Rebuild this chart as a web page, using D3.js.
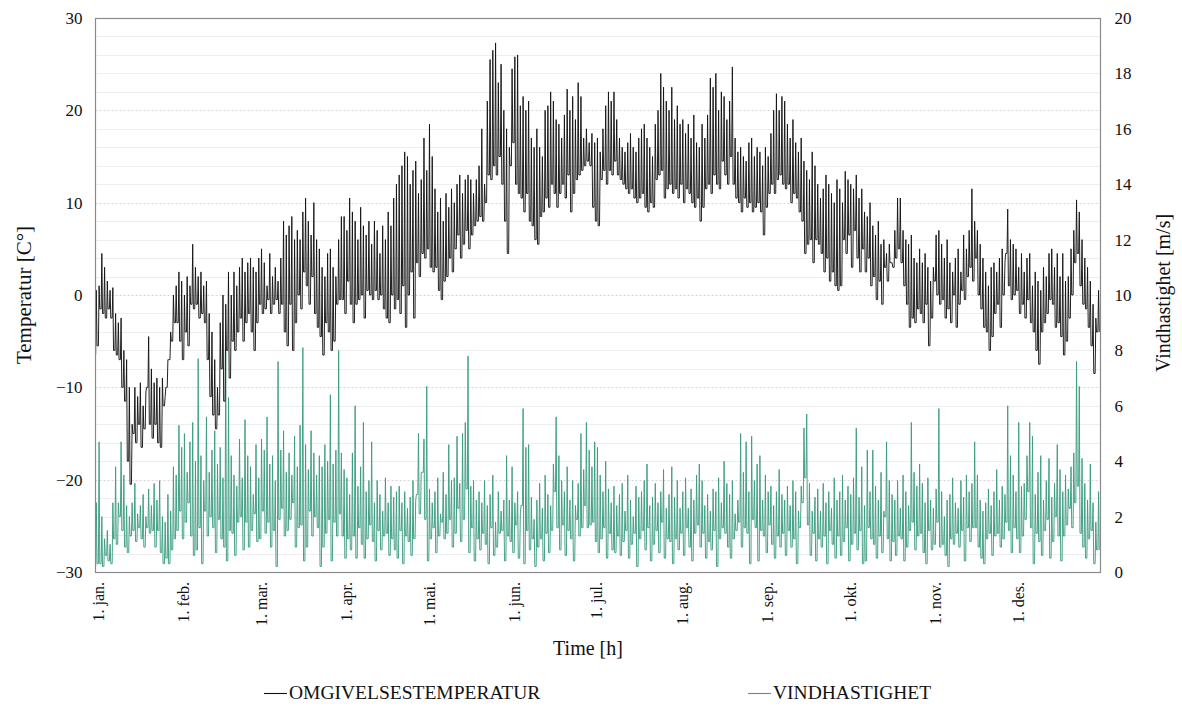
<!DOCTYPE html>
<html><head><meta charset="utf-8">
<script src="https://cdn.jsdelivr.net/npm/d3@7"></script>
<style>
html,body{margin:0;padding:0;background:#fff;}
svg{display:block;font-family:"Liberation Serif","Times New Roman",serif;}
</style></head>
<body><svg id="c" width="1182" height="706"></svg>
<script>
// ---- data (daily envelope of hourly values) ----
const monthLabels = ["1. jan.","1. feb.","1. mar.","1. apr.","1. mai.","1. jun.","1. jul.","1. aug.","1. sep.","1. okt.","1. nov.","1. des."];
const monthStartDays = [0,31,59,90,120,151,181,212,243,273,304,334];
const tempTicks = [-30,-20,-10,0,10,20,30];
const windTicks = [0,2,4,6,8,10,12,14,16,18,20];

const tempHigh = [
 0.5,1,4.5,3,1.5,0.5,0.8,-2,-3,-2.5,
 -6,-7,-10,-14,-10,-11,-9.5,-12,-10.5,-4.5,
 -8,-9.5,-9,-10,-9,-11,-7,-4,0,1,
 2.5,1.5,0,2,1,5.5,3,2,2.5,1,
 1.5,-2,-4,-7,-10,-3,0,-1,2.5,0,
 2.5,1,3,4,2.5,3.5,4,3,2.5,4,
 5,3.5,1,4.5,2,3,1.5,4,8,6.5,
 7.5,8.5,6,7,6,9,10.5,8,6.5,10,
 6,5,3,2,4.5,5,3,2,6,8.5,
 8.5,7,10.5,9,8,6,9.5,7.5,6.5,8,
 5.5,8,7,4.5,7.5,6,9,7.5,10.5,12,
 13,14,15.5,15,12,13.5,14.5,11,12.5,17,
 13.5,18.5,15,11.5,9,10.5,8,11,9.5,11.5,
 10,12,13,11,12.5,13,12.5,11,12.5,14,
 18,12,21,25.5,26.5,27.3,23,25,20,18,
 16,24.5,25.8,26,20.5,21.5,20,21,17,16,
 18,16,15,20,20.5,22,21,19,18.5,17,
 19.5,22.3,20,21.5,19,23,21.5,17,18,16.5,
 17.5,16.5,17,15.5,18,20.5,22,21,22,19,
 17,16,15.5,16.5,17.5,16,15.5,17,18,18.5,
 17,16,15,18.5,20,24,22.5,21,20,22.5,
 19,20.5,18.5,19,17.5,18.5,17,19.5,16.5,16,
 18.5,17,19.5,23.5,22.5,24,20,22,21.5,19,
 21,24.7,17,15.5,16,15,14.5,16.5,17,15,
 16,15.5,14,16,15,17.5,20,21.8,20,21.5,
 21,18.5,17,19,16.5,15.5,17,14.5,13.5,12.5,
 15.5,14,12,10.5,11.5,13,12,11,10,12.5,
 11.5,10,13.4,12.5,12,11.5,13,10.5,11.5,9,
 8.5,10,7.5,6.5,8,5.5,6,4.5,5.5,3.5,
 7,10.5,10.5,7,6,5.5,6.5,4,3.5,5,
 3.5,4.5,3,1.5,3,6.5,7,5.5,4,6,
 3.5,2.5,4,5,2.5,6.5,5,7,11.5,8,
 7,5.5,4,2.5,1,3,3.5,2.5,4,5,
 3.5,9.3,6,5.5,5,3,4.5,2.5,4,4.5,
 1,2.5,1.5,0.5,3,2,4.5,5,3,4.5,
 2,4.5,1.5,2,5,7,10.3,9,6,4,
 3,1.5,-1,-2.5,0.5
];
const tempLow = [
 -6.5,-5.5,-1.5,-2,-2.5,-1.5,-2.5,-6,-6.5,-7,
 -10,-11.5,-18,-20.5,-15,-16,-14,-16.5,-14.5,-10,
 -14,-15.5,-14,-16,-16.5,-12,-10,-7,-5,-3,
 -3,-5,-7,-4,-5.5,-1,-1.5,-1,-2.5,-2,
 -3,-7,-11,-13,-14.5,-13,-8,-11.5,-6,-9,
 -5,-6,-4,-2.5,-5,-3,-2,-4,-6,-3,
 -1,-2,-1.5,-0.5,-2,-1,-0.5,-2,-1,-4,
 -5.5,-1,-6,-3,0,-1.5,2.5,1,-1,2,
 -2,-3.5,-4.5,-6.5,-3,-4,-6,-5,-1,-0.5,
 -0.5,-2,1.5,-1,-3,-1,-0.5,0,-2.5,0.5,
 0,-0.5,0.5,-0.5,0,-1.5,-2.5,-3,0,-1.5,
 -0.5,-2,1,-3.5,0,2.5,-2.5,3.5,2,4.5,
 4,5,3,2.5,3,0.5,-0.5,1.5,2,4,
 2.5,5,6.5,4,5.5,7,5,6.5,7.5,8,
 8.5,8,10,13,12.5,14,13,15,12,8,
 4.5,14,16.5,12,11,10.5,9,11,8,7.5,
 6,5.5,8.5,9,10.5,9.5,12,11,9.5,11,
 12,10.5,13,9,11,12.5,13,13.5,14,14.5,
 14,9.5,8,7.5,12.5,13.5,12,13.5,13,14.5,
 13,12.5,12,11.5,11,11.5,10.5,10,10.5,11,
 9.5,9,10,9.5,12.5,13,13.5,10.5,11.5,12,
 11,11.5,10.5,12,10,11.5,11,10,9.5,10.5,
 8,9.5,11.5,12,11,13,12,11.5,14.5,13,
 12,15,12,10.5,10,9,10.5,9.5,10,9,
 9.5,10,9,6.5,9.5,11,12,11,12.5,13,
 12,11.5,12,10,11,10.5,9,8,4.5,5.5,
 6,3.5,6,5.5,4.5,2.5,4,1.5,2.5,1,
 0.5,1,6,4.5,6.5,3,7,4,2.5,5,
 2.5,4,1,2,-0.5,1.5,-1,3,1.5,3.5,
 3,4,5,3.5,1,-1,-3.5,-2.5,-3,-1.5,
 -2,-3,-1,-5.5,-2.5,1.5,0,-1,-0.5,-2.5,
 -1.5,-3,0,-3.5,-1,0.5,-0.5,2,3,1.5,
 4,0,-1.5,-3.5,-4,-6,-4.5,-2,-1,-3.5,
 0,4.5,1,-0.5,0,0.5,-2,-1,-2.5,-0.5,
 -3,-4,-6,-7.5,-4,-3,-2,-0.5,-1,-3.5,
 -3,-4.5,-6.5,-5,-2.5,0,3.5,4.5,1,-1,
 -1.5,-3.5,-5.5,-8.5,-4
];
const windHigh = [
 2.5,4.7,2,1.2,1.5,1,2.5,3.8,2.5,4.7,
 3.5,2.4,2,2.5,3.2,2.1,2.4,2.8,2,3,
 2.4,3.2,2.6,3.3,2,1.8,2.8,2.2,3.8,3.5,
 5.3,4.5,5,3.6,4.7,5.4,4,7.7,4.2,3.3,
 5.6,3.6,4.4,5.1,3.9,4.5,3.4,8.1,6.3,4.2,
 3.5,3.1,4.8,3.4,5.5,4.2,3.8,2.8,4.6,3.4,
 4.8,4.4,5.6,3.9,4.2,3.3,7.6,4.4,5.1,3.6,
 4.3,3.5,4.9,3.8,5.3,8.1,4.6,3.7,5.1,4.3,
 3.5,4.2,3.8,4.6,4,6.4,3.9,4.4,8,4.3,
 3.7,3.4,2.8,4.3,6,3.1,3.8,5.4,2.9,3.3,
 4.7,2.5,3.3,2.8,2.2,3.4,2.5,3.1,2.7,2.9,
 3.1,2.5,2.9,2.3,2.7,3.3,2.6,5,3.6,4.8,
 6.7,3,2.5,2.9,3.4,2.1,3.6,2.8,4.6,3.3,
 3.4,4.9,3.2,5,5.4,7.8,3.1,3.3,2.6,2.9,
 2.5,3.3,2.4,2.8,3.5,1.8,2.9,2.2,2.6,4.2,
 2.6,3.8,2.5,2.9,2.1,5.9,4.5,4.6,2.7,1.9,
 2.6,3.2,2.3,3.5,2.8,2.4,3.9,5.6,4.2,3.3,
 2.9,3.8,2.6,3.3,2.4,3.2,5,3.7,5.4,4.4,
 3.8,4.7,4.5,3.5,2.9,4,3,2.5,3.1,2.4,
 2.8,3.2,2.2,3.5,2.6,2,3.1,2.7,2.9,3.3,
 3.9,2.4,2.7,3.2,2.5,2.9,3.7,2.3,2.8,3.8,
 2.7,3.3,2.3,2.9,3.4,2.3,3,2.6,3.5,3.9,
 3.3,2.4,2.8,2.2,3,2.9,3.4,2.5,4,3.2,
 2.8,3.3,2.1,2.6,5,3.6,4.7,2.9,4.9,3.3,
 3.9,4.2,2.6,3.5,2.9,3.1,2.4,2.9,3.7,2.8,
 2.6,3.1,2.4,3.3,2.9,2.2,3.1,5.2,5.7,3.2,
 2.2,2.7,3,2.2,3.2,2.5,2.9,2.3,3.4,2.6,
 2.9,3.5,2.6,3.1,2.8,3.4,5.2,2.7,3.8,2.4,
 4.4,2.9,4.4,3.1,2.6,3.6,2.2,4.7,3.3,2.8,
 2.6,3.3,2.3,3.5,2.9,2.4,5.4,3.6,3.1,3.9,
 3.2,2.5,3.4,2.6,2.3,3,5.9,2.9,2,2.6,
 2.8,3.4,2.5,2.3,3.3,2.7,3.5,2.9,3.2,4.7,
 3.5,2.6,2.2,2.5,3,2.4,2.9,3.7,2.6,3.1,
 2.8,6,4.2,3.5,2.9,5.4,3.1,3.2,4.2,5.4,
 4.9,2.8,3.6,4.2,2.6,3.3,4.1,2.7,3.2,4.6,
 3.7,2.9,3.5,3,3.8,4.3,7.6,6.7,4.1,3.2,
 2.6,3.9,2.5,1.8,2.9
];
const windLow = [
 0.2,0.3,0.3,0.2,0.6,0.4,0.3,1.2,1,2,
 1.5,0.9,0.7,1.3,1.5,1.1,1.6,1.2,0.9,1.6,
 1.4,1.5,0.9,1.5,0.7,0.3,0.5,0.3,0.8,1.2,
 1.5,2.2,1.2,1.8,2.5,1.3,0.6,0.8,1.6,0.3,
 2.2,1.3,2,1.6,0.7,1.9,1.2,0.9,0.4,1.5,
 1.4,0.6,1.8,2,0.8,1.8,0.9,1.5,2.1,1.1,
 1.2,2.2,1.4,1.8,0.9,1.5,0.2,1.9,2.3,1.3,
 1.5,1.9,2.5,0.9,1.6,1.7,0.4,0.9,2.2,1.3,
 2,1.6,0.2,0.9,1.4,1.9,0.4,1.8,1.3,2.1,
 1.3,0.5,1.2,0.8,1.3,0.5,1.6,1,0.5,1.2,
 1.7,1.1,0.4,1.5,0.8,1.3,1.4,0.6,1.2,0.8,
 0.5,1.5,0.3,1.3,1.1,0.6,1.2,2.8,2.1,3.6,
 1.9,0.4,1.2,1.6,0.7,1.3,1.8,1.2,1.4,1.9,
 0.9,1.4,2.3,1.1,1.9,3,0.7,1.6,0.4,1.2,
 0.8,1.4,1,0.3,1.6,0.6,0.9,1.4,1.5,0.4,
 1.3,1.1,0.7,1.7,0.5,2.4,0.3,1.5,0.8,1.2,
 0.2,0.9,1.2,0.4,1.4,0.7,1.5,2.9,1.6,0.8,
 1.7,0.6,1.5,1.2,0.4,1.9,1.3,1.6,2.4,1.6,
 1.7,1.8,1.1,0.7,1.2,1.6,0.5,1.4,0.8,0.7,
 1.3,0.6,1.1,1.5,0.5,1,1.4,0.2,1.2,1.5,
 0.8,1.6,0.4,1,1.5,0.7,1.8,0.5,1.2,1.1,
 0.3,1.2,0.8,1.4,0.6,1.6,0.9,0.4,1.4,1.7,
 0.9,1.4,0.5,1.1,0.8,1.5,0.2,1.2,1.6,1.4,
 0.9,0.5,1.2,1.5,1.8,0.9,1.6,1.4,0.3,1.9,
 1.6,0.4,1.5,1.3,0.7,1.7,1,0.5,1.3,0.9,
 1.4,0.6,1.5,0.9,1.2,0.3,1.6,2.5,3.4,1.7,
 0.6,1.4,0.4,1.2,0.9,1.3,0.3,1.5,1,0.5,
 1.3,0.6,1.1,1.6,0.4,1,1.4,0.8,1.5,0.3,
 0.4,1.6,1.2,1,0.5,1.3,0.7,2,1.2,0.4,
 1.1,0.6,1.3,1.2,0.4,0.9,1.5,1.8,0.8,1.3,
 1.4,0.7,0.3,1.5,0.8,1,1.8,0.9,1,0.6,
 0.2,1.2,1,1.4,0.9,1.5,0.4,1.6,1.1,1.6,
 1.6,0.9,0.5,0.3,1.2,1.4,0.6,1.3,1.4,0.9,
 1.2,1.8,1.5,0.7,1.6,1.2,0.7,1.3,1.9,2.9,
 1.6,0.3,1.4,1.1,0.6,1.5,1.9,0.5,1.1,2,
 1.3,0.4,1.3,1.7,2.3,1.6,2.5,3.1,1.4,0.9,
 0.5,1.2,1.5,0.3,0.8
];

// ---- layout ----
const svg = d3.select("#c");
const L = 95.5, R = 1100.5, T = 18, B = 572;
const x = d3.scaleLinear().domain([0, 365]).range([L, R]);
const yT = d3.scaleLinear().domain([-30, 30]).range([B, T]);
const yW = d3.scaleLinear().domain([0, 20]).range([B, T]);

// gridlines every 2 degrees
const grid = svg.append("g");
d3.range(-28, 30, 2).forEach(v => {
  const major = v % 10 === 0;
  grid.append("line")
    .attr("x1", L).attr("x2", R)
    .attr("y1", Math.round(yT(v)) + 0.5).attr("y2", Math.round(yT(v)) + 0.5)
    .attr("stroke", major ? "#d4d4d4" : "#eeeeee")
    .attr("stroke-width", 1)
    .attr("stroke-dasharray", major ? "2,2" : null);
});

// series paths: steep daily rise to the high, steep fall to the next low, short flat
function pts(lo, hi) {
  const p = [];
  for (let i = 0; i < lo.length; i++) {
    p.push([i + 0.05, lo[i]]);
    p.push([i + 0.3, hi[i]]);
    p.push([i + 0.55, i + 1 < lo.length ? lo[i + 1] : lo[i]]);
  }
  return p;
}
const lineT = d3.line().x(d => x(d[0])).y(d => yT(d[1]));
const lineW = d3.line().x(d => x(d[0])).y(d => yW(d[1]));
const windColor = "#3d9c82";

svg.append("path").attr("d", lineW(pts(windLow, windHigh)))
  .attr("fill", "none").attr("stroke", windColor).attr("stroke-width", 0.95);
svg.append("path").attr("d", lineT(pts(tempLow, tempHigh)))
  .attr("fill", "none").attr("stroke", "#151515").attr("stroke-width", 0.95);

// frame
svg.append("rect").attr("x", L).attr("y", T + 0.5).attr("width", R - L).attr("height", B - T)
  .attr("fill", "none").attr("stroke", "#8a8a8a").attr("stroke-width", 1.2);

// left ticks
const leftAxis = d3.axisLeft(yT).tickValues(tempTicks).tickSize(0).tickPadding(13).tickFormat(d3.format("d"));
const gl = svg.append("g").attr("transform", `translate(${L},0)`).call(leftAxis);
gl.select(".domain").remove();
gl.selectAll("text").attr("font-size", 17).attr("font-family", "Liberation Serif").attr("fill", "#111");

// right ticks
const rightAxis = d3.axisRight(yW).tickValues(windTicks).tickSize(0).tickPadding(14).tickFormat(d3.format("d"));
const gr = svg.append("g").attr("transform", `translate(${R},0)`).call(rightAxis);
gr.select(".domain").remove();
gr.selectAll("text").attr("font-size", 17).attr("font-family", "Liberation Serif").attr("fill", "#111");

// month labels
const gx = svg.append("g");
monthStartDays.forEach((d, i) => {
  const px = x(d) + 3;
  gx.append("text")
    .attr("transform", `translate(${px},${B + 10}) rotate(-90)`)
    .attr("text-anchor", "end").attr("dy", "0.35em")
    .attr("font-size", 16).attr("fill", "#111")
    .text(monthLabels[i]);
});

// axis titles
svg.append("text").attr("transform", "translate(31,295) rotate(-90)")
  .attr("text-anchor", "middle").attr("font-size", 21).attr("fill", "#111")
  .text("Temperatur  [C°]");
svg.append("text").attr("transform", "translate(1170,293) rotate(-90)")
  .attr("text-anchor", "middle").attr("font-size", 20).attr("fill", "#111")
  .text("Vindhastighet  [m/s]");
svg.append("text").attr("x", 588).attr("y", 655)
  .attr("text-anchor", "middle").attr("font-size", 20).attr("fill", "#111")
  .text("Time [h]");

// legend
const legend = [
  {label: "OMGIVELSESTEMPERATUR", color: "#111", x: 264},
  {label: "VINDHASTIGHET", color: windColor, x: 748}
];
legend.forEach(l => {
  svg.append("line").attr("x1", l.x).attr("x2", l.x + 23)
    .attr("y1", 693.5).attr("y2", 693.5).attr("stroke", l.color).attr("stroke-width", 1.1);
  svg.append("text").attr("x", l.x + 25).attr("y", 699)
    .attr("font-size", 19.5).attr("fill", "#111").text(l.label);
});
</script>
</body></html>
